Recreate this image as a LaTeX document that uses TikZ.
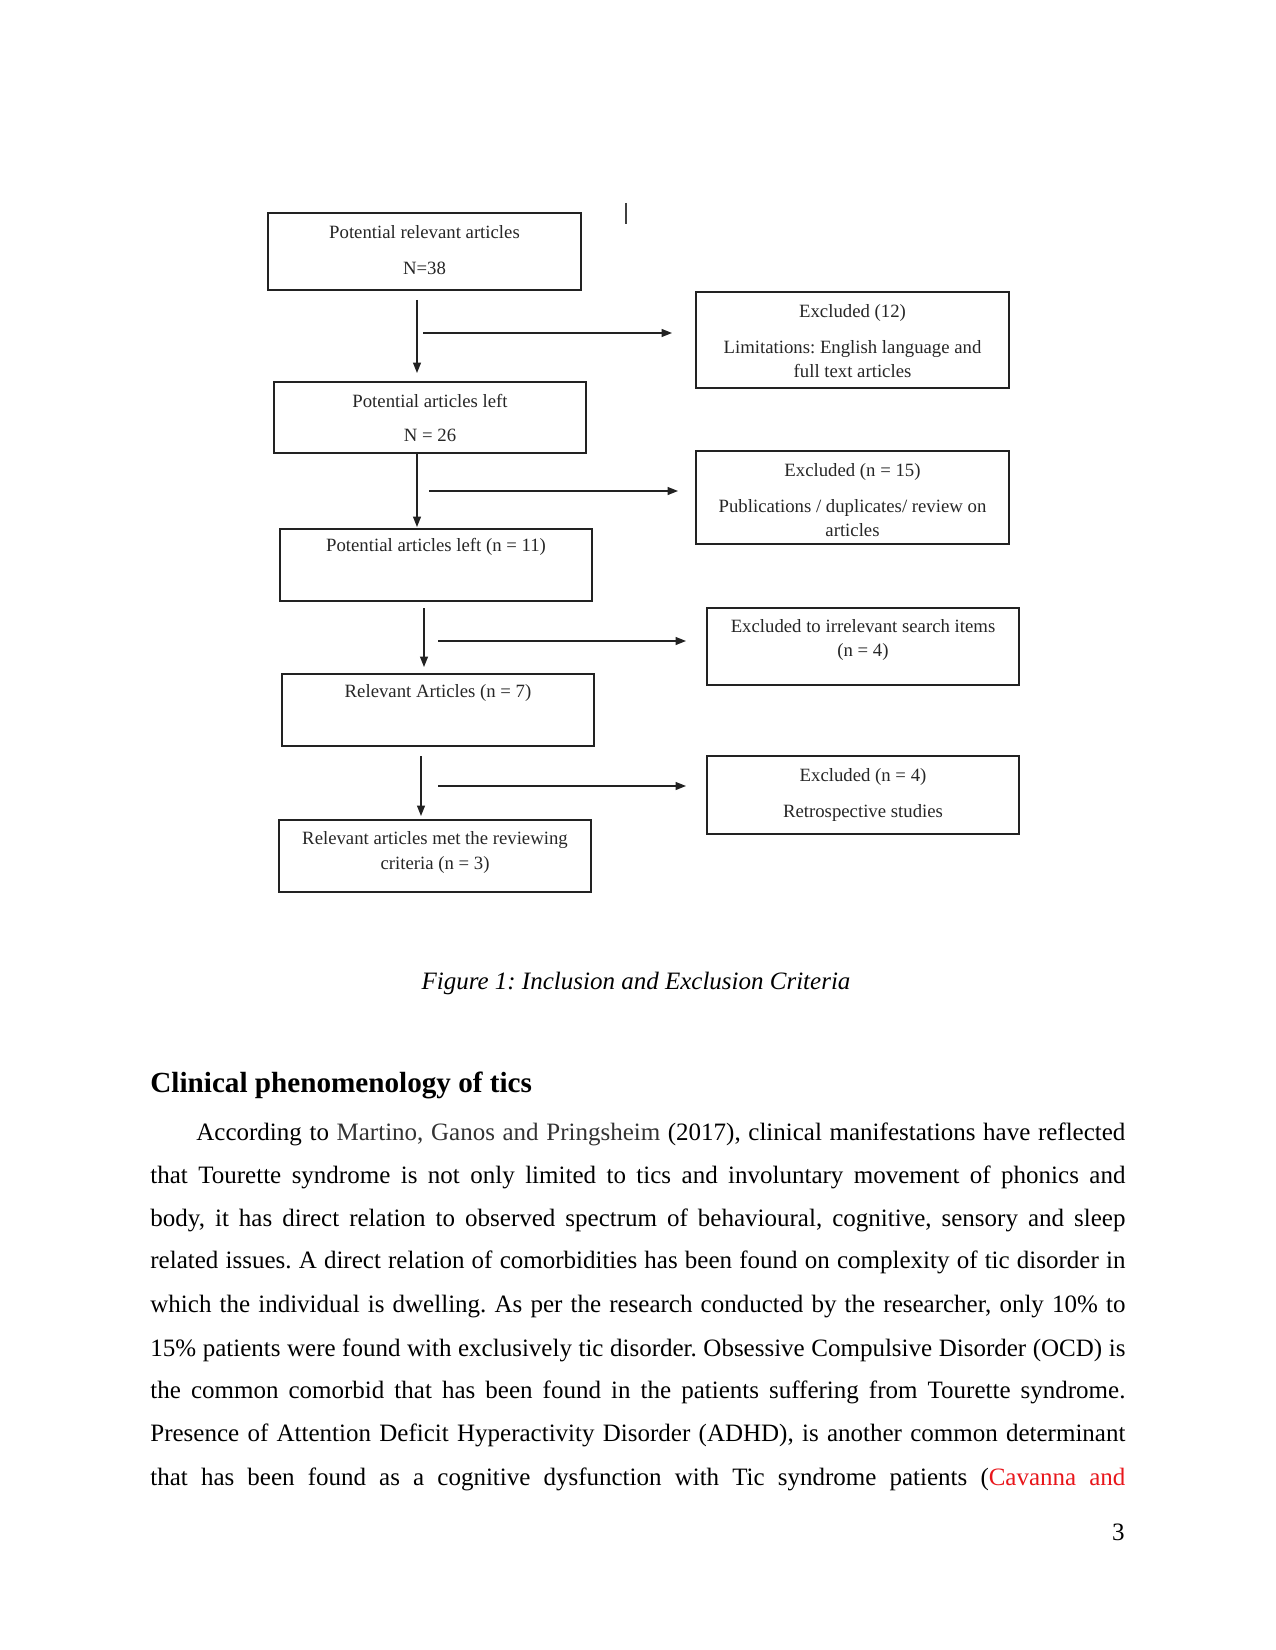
\documentclass[tikz,border=0pt]{standalone}
\usepackage{fontspec}
\setmainfont{Liberation Serif}
\usetikzlibrary{arrows.meta}
\definecolor{boxline}{HTML}{222222}
\definecolor{citegray}{HTML}{333333}
\definecolor{citered}{HTML}{E8161B}
\tikzset{
  flowbox/.style={draw=boxline, line width=1pt, rectangle, inner sep=0pt, minimum width=150pt, yshift=-0.5pt},
  flowtext/.style={anchor=mid, inner sep=0pt, font=\fontsize{9}{10}\selectfont\frenchspacing, text=black!85, yshift=-1.5pt},
  flowarrow/.style={draw=boxline, line width=0.7pt, -{Triangle[length=5pt,width=3.8pt]}},
  pagetext/.style={inner sep=0pt, font=\fontsize{12}{14}\selectfont\frenchspacing, yshift=-2pt},
  bodyline/.style={pagetext, anchor=mid west},
}
\begin{document}
\begin{tikzpicture}[x=0.48pt, y=-0.48pt]
\useasboundingbox (0,0) rectangle (1275,1650);
% boxes (left column)
\node[flowbox, minimum height=37pt] (b1) at (424.5,250.5) {};
\node[flowbox, minimum height=34pt] (b2) at (430,416.5) {};
\node[flowbox, minimum height=34.5pt] (b3) at (436,564) {};
\node[flowbox, minimum height=34.5pt] (b4) at (438,709) {};
\node[flowbox, minimum height=34.5pt] (b5) at (435,855) {};
% boxes (right column)
\node[flowbox, minimum height=46pt] (e1) at (852.5,339) {};
\node[flowbox, minimum height=44.6pt] (e2) at (852.5,496.5) {};
\node[flowbox, minimum height=37pt] (e3) at (863,645.5) {};
\node[flowbox, minimum height=37.4pt] (e4) at (863,794) {};
% texts
\node[flowtext] (t1a) at (424.5,231) {Potential relevant articles};
\node[flowtext] (t1b) at (424.5,267) {N=38};
\node[flowtext] (t2a) at (430,400) {Potential articles left};
\node[flowtext] (t2b) at (430,434) {N = 26};
\node[flowtext] (t3a) at (436,544) {Potential articles left (n = 11)};
\node[flowtext] (t4a) at (438,690) {Relevant Articles (n = 7)};
\node[flowtext] (t5a) at (435,837) {Relevant articles met the reviewing};
\node[flowtext] (t5b) at (435,862) {criteria (n = 3)};
\node[flowtext] (s1a) at (852.5,310) {Excluded (12)};
\node[flowtext] (s1b) at (852.5,346) {Limitations: English language and};
\node[flowtext] (s1c) at (852.5,370) {full text articles};
\node[flowtext] (s2a) at (852.5,469) {Excluded (n = 15)};
\node[flowtext] (s2b) at (852.5,505) {Publications / duplicates/ review on};
\node[flowtext] (s2c) at (852.5,529) {articles};
\node[flowtext] (s3a) at (863,625) {Excluded to irrelevant search items};
\node[flowtext] (s3b) at (863,649) {(n = 4)};
\node[flowtext] (s4a) at (863,774) {Excluded (n = 4)};
\node[flowtext] (s4b) at (863,810) {Retrospective studies};
% arrow end points
\coordinate (d1s) at (417,300); \coordinate (d1e) at (417,373);
\coordinate (r1s) at (423,333); \coordinate (r1e) at (672,333);
\coordinate (d2s) at (417,452); \coordinate (d2e) at (417,527);
\coordinate (r2s) at (429,491); \coordinate (r2e) at (678,491);
\coordinate (d3s) at (424,608); \coordinate (d3e) at (424,667);
\coordinate (r3s) at (438,641); \coordinate (r3e) at (686,641);
\coordinate (d4s) at (421,756); \coordinate (d4e) at (421,816);
\coordinate (r4s) at (438,786); \coordinate (r4e) at (686,786);
\draw[flowarrow] (d1s) -- (d1e);
\draw[flowarrow] (r1s) -- (r1e);
\draw[flowarrow] (d2s) -- (d2e);
\draw[flowarrow] (r2s) -- (r2e);
\draw[flowarrow] (d3s) -- (d3e);
\draw[flowarrow] (r3s) -- (r3e);
\draw[flowarrow] (d4s) -- (d4e);
\draw[flowarrow] (r4s) -- (r4e);
% stray bar
\coordinate (bar1) at (626,203); \coordinate (bar2) at (626,224);
\draw[line width=1pt, draw=black!75] (bar1) -- (bar2);
% caption
\node[pagetext, anchor=mid, font=\fontsize{12}{14}\selectfont\itshape\frenchspacing] (cap) at (636,981) {Figure 1: Inclusion and Exclusion Criteria};
% heading
\node[pagetext, anchor=mid west, font=\fontsize{14}{16}\selectfont\bfseries\frenchspacing] (head) at (150,1084) {Clinical phenomenology of tics};
% paragraph
\node[bodyline] (p1) at (196,1132) {\makebox[445.9pt][s]{According to {\color{citegray}Martino, Ganos and Pringsheim} (2017), clinical manifestations have reflected}};
\node[bodyline] (p2) at (150,1175) {\makebox[468pt][s]{that Tourette syndrome is not only limited to tics and involuntary movement of phonics and}};
\node[bodyline] (p3) at (150,1218) {\makebox[468pt][s]{body, it has direct relation to observed spectrum of behavioural, cognitive, sensory and sleep}};
\node[bodyline] (p4) at (150,1260) {\makebox[468pt][s]{related issues. A direct relation of comorbidities has been found on complexity of tic disorder in}};
\node[bodyline] (p5) at (150,1304) {\makebox[468pt][s]{which the individual is dwelling. As per the research conducted by the researcher, only 10\% to}};
\node[bodyline] (p6) at (150,1348) {\makebox[468pt][s]{15\% patients were found with exclusively tic disorder. Obsessive Compulsive Disorder (OCD) is}};
\node[bodyline] (p7) at (150,1390) {\makebox[468pt][s]{the common comorbid that has been found in the patients suffering from Tourette syndrome.}};
\node[bodyline] (p8) at (150,1433) {\makebox[468pt][s]{Presence of Attention Deficit Hyperactivity Disorder (ADHD), is another common determinant}};
\node[bodyline] (p9) at (150,1477) {\makebox[468pt][s]{that has been found as a cognitive dysfunction with Tic syndrome patients ({\color{citered}Cavanna and}}};
% page number
\node[pagetext, anchor=mid east] (pg) at (1125,1532) {3};
\end{tikzpicture}
\end{document}
